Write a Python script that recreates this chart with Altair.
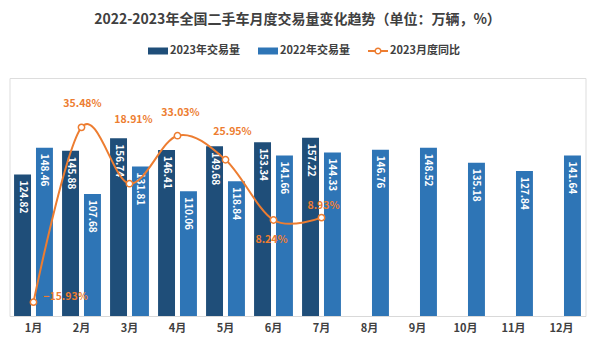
import altair as alt
import pandas as pd

# ---- data ----
months = ["1月", "2月", "3月", "4月", "5月", "6月", "7月", "8月", "9月", "10月", "11月", "12月"]
vol_2023 = [124.82, 145.88, 156.74, 146.41, 149.68, 153.34, 157.22]
vol_2022 = [148.46, 107.68, 131.81, 110.06, 118.84, 141.66, 144.33, 146.76, 148.52, 135.18, 127.84, 141.64]
yoy_2023 = [-15.93, 35.48, 18.91, 33.03, 25.95, 8.24, 8.93]
years = ["2023", "2022"]
series_names = ["2023年交易量", "2022年交易量", "2023月度同比"]

# ---- style ----
series_colors = ["#1F4E79", "#2E75B6", "#ED7D31"]
ORANGE = "#ED7D31"
TEXT = "#404040"
FONT = "Noto Sans CJK SC"

rows = []
for i, m in enumerate(months):
    if i < len(vol_2023):
        rows.append({"month": m, "year": years[0], "series": series_names[0], "value": vol_2023[i]})
    rows.append({"month": m, "year": years[1], "series": series_names[1], "value": vol_2022[i]})
bars_df = pd.DataFrame(rows)
line_df = pd.DataFrame({"month": months[:len(yoy_2023)], "yoy": yoy_2023, "series": series_names[2]})

x_enc = alt.X(
    "month:N",
    scale=alt.Scale(domain=months, paddingInner=0.19, paddingOuter=0.095),
    axis=alt.Axis(title=None, labelAngle=0, ticks=False, domainColor="#D9D9D9", domainWidth=1,
                  labelFont=FONT, labelFontSize=11, labelFontWeight="bold", labelColor=TEXT,
                  labelPadding=6, grid=False),
)
xoff_enc = alt.XOffset("year:N", scale=alt.Scale(domain=years, paddingInner=0.227, paddingOuter=0))

# legend symbols: wide rectangle for bars; line with hollow marker for the ratio series
RECT_PATH = "M-1,-0.35H1V0.35H-1Z"
LINE_PATH = ("M-1,-0.09H-0.34V0.09H-1Z"
             "M0.34,-0.09H1V0.09H0.34Z"
             "M-0.36,0A0.36,0.36,0,1,1,0.36,0A0.36,0.36,0,1,1,-0.36,0Z"
             "M-0.21,0A0.21,0.21,0,1,0,0.21,0A0.21,0.21,0,1,0,-0.21,0Z")
is_line = f"datum.value === '{series_names[2]}'"
legend = alt.Legend(
    title=None, orient="none", legendX=138.5, legendY=-37, direction="horizontal",
    symbolSize=400, labelFont=FONT, labelFontSize=11, labelColor=TEXT, labelFontWeight="bold",
    labelOffset=2, columnPadding=18, padding=0,
    symbolType=alt.ExprRef(expr=f"{is_line} ? '{LINE_PATH}' : '{RECT_PATH}'"),
    symbolStrokeWidth=0, symbolOpacity=1,
)
color_scale = alt.Scale(domain=series_names, range=series_colors)

y_bar = alt.Y("value:Q", scale=alt.Scale(domain=[0, 210], nice=False, zero=True), axis=None)

bars = alt.Chart(bars_df).mark_bar().encode(
    x=x_enc, xOffset=xoff_enc, y=y_bar,
    color=alt.Color("series:N", scale=color_scale, legend=legend),
)
bar_labels = alt.Chart(bars_df).mark_text(
    angle=90, align="left", baseline="middle", dx=6, color="white",
    fontWeight="bold", fontSize=10, font=FONT,
).encode(x=x_enc, xOffset=xoff_enc, y=y_bar, text=alt.Text("value:Q", format=".2f"))

y_line = alt.Y("yoy:Q", scale=alt.Scale(domain=[-20, 50], nice=False, zero=False), axis=None)
line = alt.Chart(line_df).mark_line(interpolate="cardinal", strokeWidth=2).encode(
    x=x_enc, y=y_line,
    color=alt.Color("series:N", scale=color_scale, legend=legend),
)
points = alt.Chart(line_df).mark_point(
    filled=True, fill="white", stroke=ORANGE, strokeWidth=1.5, size=40, opacity=1
).encode(x=x_enc, y=y_line)

# label nudges (dx, dy) per month, styling only
nudges = {"1月": (32, -5), "2月": (1, -23), "3月": (4, -64), "4月": (3, -23),
          "5月": (7, -28), "6月": (-2, 20), "7月": (2, -12)}
label_layers = []
for m, (dx, dy) in nudges.items():
    label_layers.append(
        alt.Chart(line_df).transform_filter(alt.datum.month == m)
        .transform_calculate(lbl="format(datum.yoy, '.2f') + '%'")
        .mark_text(dx=dx, dy=dy, color=ORANGE, fontWeight="bold", fontSize=10.5, font=FONT,
                   align="center", baseline="middle")
        .encode(x=x_enc, y=y_line, text="lbl:N")
    )

bar_layer = alt.layer(bars, bar_labels)
line_layer = alt.layer(line, points, *label_layers)

chart = alt.layer(bar_layer, line_layer).resolve_scale(y="independent").properties(
    width=576, height=238,
    autosize=alt.AutoSizeParams(type="none"),
    padding={"left": 9.5, "top": 78, "right": 14.5, "bottom": 41},
    title=alt.TitleParams(
        "2022-2023年全国二手车月度交易量变化趋势（单位：万辆，%）",
        fontSize=14, fontWeight="bold", color=TEXT, font=FONT, anchor="middle", offset=14,
    ),
).configure_view(stroke=None).configure(background="white")

chart.save("out.html", embed_options={"renderer": "svg", "actions": False})
